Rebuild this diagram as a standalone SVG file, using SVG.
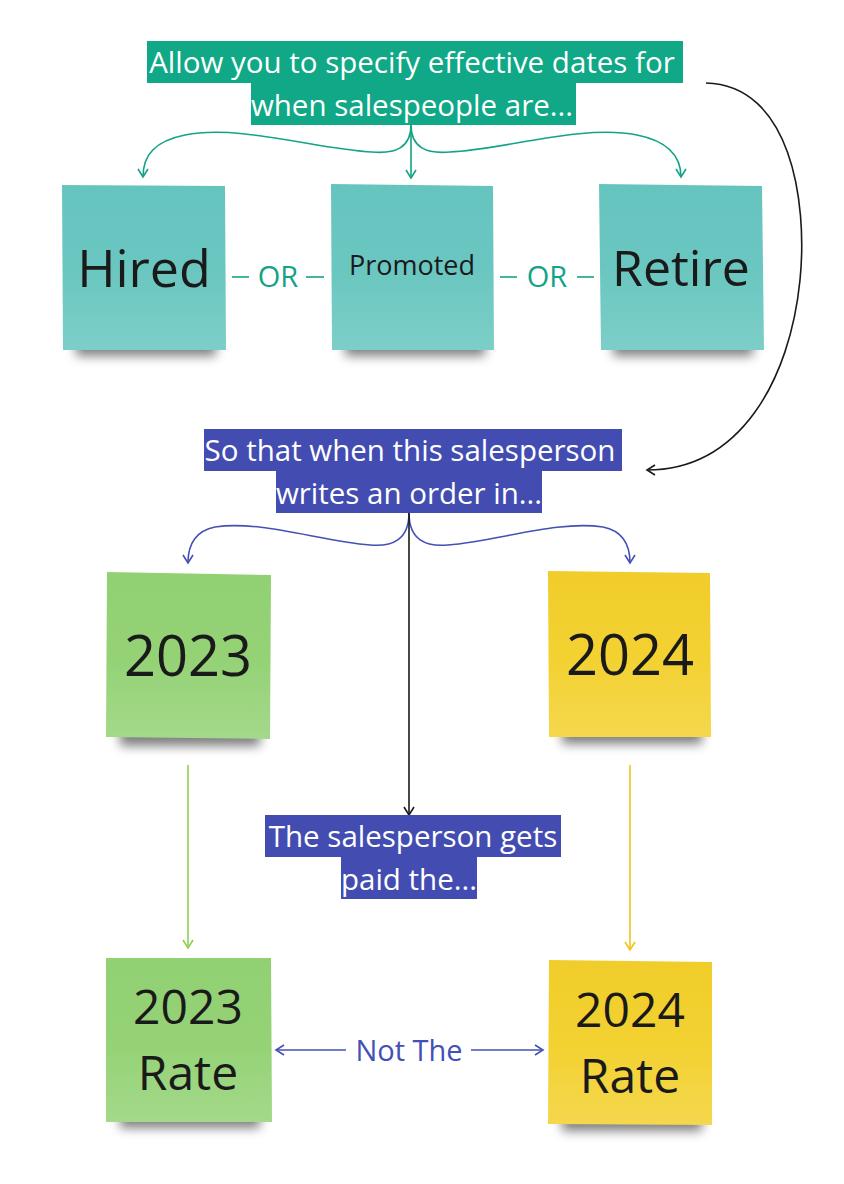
<svg xmlns="http://www.w3.org/2000/svg" width="844" height="1184" viewBox="0 0 844 1184">
<style>
  text { font-family: "Open Sans", "Noto Sans", "DejaVu Sans", sans-serif; }
  .lbl { fill: #ffffff; font-size: 29.5px; text-anchor: middle; }
  .big { fill: #1a1a1a; font-size: 52px; text-anchor: middle; }
  .mid { fill: #1a1a1a; font-size: 27px; text-anchor: middle; }
  .teal { stroke: #13A386; stroke-width: 1.6; fill: none; }
  .blue { stroke: #4350B5; stroke-width: 1.6; fill: none; }
  .blk { stroke: #1a1a1a; stroke-width: 1.6; fill: none; }
  .grn { stroke: #8ED24F; stroke-width: 1.6; fill: none; }
  .yel { stroke: #F2C318; stroke-width: 1.6; fill: none; }
  .shadow { fill: #000; opacity: 0.5; filter: url(#blur); }
</style>
<defs>
  <filter id="blur" x="-20%" y="-60%" width="140%" height="220%"><feGaussianBlur stdDeviation="5.5"/></filter>
  <linearGradient id="gTeal" x1="0" y1="0" x2="0" y2="1"><stop offset="0" stop-color="#66C4BF"/><stop offset="0.5" stop-color="#6AC6C0"/><stop offset="1" stop-color="#7CCFC8"/></linearGradient>
  <linearGradient id="gGreen" x1="0" y1="0" x2="0" y2="1"><stop offset="0" stop-color="#92D074"/><stop offset="0.5" stop-color="#94D275"/><stop offset="1" stop-color="#A3D98A"/></linearGradient>
  <linearGradient id="gYel" x1="0" y1="0" x2="0" y2="1"><stop offset="0" stop-color="#F0CD2A"/><stop offset="0.5" stop-color="#F3D131"/><stop offset="1" stop-color="#F5D74D"/></linearGradient>
  <marker id="aTeal" viewBox="0 0 12 12" refX="10" refY="6" markerWidth="12" markerHeight="12" markerUnits="userSpaceOnUse" orient="auto"><path d="M2,1 L10,6 L2,11" fill="none" stroke="#13A386" stroke-width="1.6"/></marker>
  <marker id="aBlue" viewBox="0 0 12 12" refX="10" refY="6" markerWidth="12" markerHeight="12" markerUnits="userSpaceOnUse" orient="auto"><path d="M2,1 L10,6 L2,11" fill="none" stroke="#4350B5" stroke-width="1.6"/></marker>
  <marker id="aBlk" viewBox="0 0 12 12" refX="10" refY="6" markerWidth="12" markerHeight="12" markerUnits="userSpaceOnUse" orient="auto"><path d="M2,1 L10,6 L2,11" fill="none" stroke="#1a1a1a" stroke-width="1.6"/></marker>
  <marker id="aGrn" viewBox="0 0 12 12" refX="10" refY="6" markerWidth="12" markerHeight="12" markerUnits="userSpaceOnUse" orient="auto"><path d="M2,1 L10,6 L2,11" fill="none" stroke="#8ED24F" stroke-width="1.6"/></marker>
  <marker id="aYel" viewBox="0 0 12 12" refX="10" refY="6" markerWidth="12" markerHeight="12" markerUnits="userSpaceOnUse" orient="auto"><path d="M2,1 L10,6 L2,11" fill="none" stroke="#F2C318" stroke-width="1.6"/></marker>
</defs>
<rect width="844" height="1184" fill="#ffffff"/>

<g id="connectors">
  <path class="teal" d="M411,125 L411,178" marker-end="url(#aTeal)"/>
  <path class="teal" d="M411,125 C411,148 395,154 372,152 C320,150 240,124 185,135 C155,141 143,155 143,177" marker-end="url(#aTeal)"/>
  <path class="teal" d="M411,125 C411,148 427,154 450,152 C502,150 582,124 637,135 C667,141 681,155 681,177" marker-end="url(#aTeal)"/>
  <path class="blk" d="M706,83 C790,85 808,200 800,280 C790,380 740,470 647,470" marker-end="url(#aBlk)"/>
  <path class="blue" d="M409,513 C409,540 392,547 370,545 C320,541 260,520 215,527 C195,531 188,545 188,563" marker-end="url(#aBlue)"/>
  <path class="blue" d="M409,513 C409,540 426,547 448,545 C498,541 558,520 603,527 C623,531 630,545 630,563" marker-end="url(#aBlue)"/>
  <path class="blk" d="M409,513 L409,815" marker-end="url(#aBlk)"/>
  <path class="grn" d="M188,765 L188,948" marker-end="url(#aGrn)"/>
  <path class="yel" d="M630,765 L630,950" marker-end="url(#aYel)"/>
  <path class="blue" d="M346,1050 L276,1050" marker-end="url(#aBlue)"/>
  <path class="blue" d="M471,1050 L543,1050" marker-end="url(#aBlue)"/>
  <text x="409" y="1061" style="fill:#4350B5;font-size:29px;text-anchor:middle">Not The</text>
  <line class="teal" x1="232" y1="277" x2="249" y2="277"/>
  <line class="teal" x1="306" y1="277" x2="324" y2="277"/>
  <text x="278" y="287" style="fill:#13A386;font-size:29px;text-anchor:middle">OR</text>
  <line class="teal" x1="500" y1="277" x2="517" y2="277"/>
  <line class="teal" x1="577" y1="277" x2="594" y2="277"/>
  <text x="547" y="287" style="fill:#13A386;font-size:29px;text-anchor:middle">OR</text>
</g>

<g id="label-top">
  <rect x="147" y="41" width="536" height="42" fill="#10A886"/>
  <rect x="251" y="82" width="325" height="43" fill="#10A886"/>
  <text class="lbl" x="412" y="73">Allow you to specify effective dates for</text>
  <text class="lbl" x="412" y="116">when salespeople are...</text>
</g>

<g id="note-hired">
  <rect class="shadow" x="76" y="330" width="140" height="26"/>
  <polygon points="62,185 225,186 226,350 63,350" fill="url(#gTeal)"/>
  <text class="big" x="144" y="287">Hired</text>
</g>
<g id="note-promoted">
  <rect class="shadow" x="345" y="330" width="140" height="26"/>
  <polygon points="331,184 493,186 494,350 332,350" fill="url(#gTeal)"/>
  <text class="mid" x="412" y="275">Promoted</text>
</g>
<g id="note-retire">
  <rect class="shadow" x="613" y="330" width="140" height="26"/>
  <polygon points="599,184 762,186 764,350 601,350" fill="url(#gTeal)"/>
  <text class="big" x="681" y="286" style="font-size:50px">Retire</text>
</g>

<g id="label-mid">
  <rect x="204" y="429" width="418" height="42" fill="#434DB1"/>
  <rect x="276" y="471" width="266" height="42" fill="#434DB1"/>
  <text class="lbl" x="410" y="461">So that when this salesperson</text>
  <text class="lbl" x="409" y="504">writes an order in...</text>
</g>

<g id="note-2023">
  <rect class="shadow" x="120" y="720" width="140" height="26"/>
  <polygon points="107,572 271,575 270,739 106,737" fill="url(#gGreen)"/>
  <text class="big" x="188" y="676" style="font-size:56px">2023</text>
</g>
<g id="note-2024">
  <rect class="shadow" x="562" y="718" width="140" height="26"/>
  <polygon points="548,571 710,573 711,737 549,737" fill="url(#gYel)"/>
  <text class="big" x="630" y="675" style="font-size:56px">2024</text>
</g>

<g id="label-bottom">
  <rect x="265" y="815" width="296" height="42" fill="#434DB1"/>
  <rect x="341" y="857" width="136" height="42" fill="#434DB1"/>
  <text class="lbl" x="413" y="847">The salesperson gets</text>
  <text class="lbl" x="409" y="890">paid the...</text>
</g>

<g id="note-2023-rate">
  <rect class="shadow" x="120" y="1102" width="140" height="26"/>
  <polygon points="106,958 271,958 272,1122 106,1122" fill="url(#gGreen)"/>
  <text class="big" x="188" y="1024" style="font-size:48px">2023</text>
  <text class="big" x="188" y="1090" style="font-size:48px">Rate</text>
</g>
<g id="note-2024-rate">
  <rect class="shadow" x="562" y="1105" width="140" height="26"/>
  <polygon points="549,960 712,962 712,1125 548,1124" fill="url(#gYel)"/>
  <text class="big" x="630" y="1027" style="font-size:48px">2024</text>
  <text class="big" x="630" y="1093" style="font-size:48px">Rate</text>
</g>
</svg>
